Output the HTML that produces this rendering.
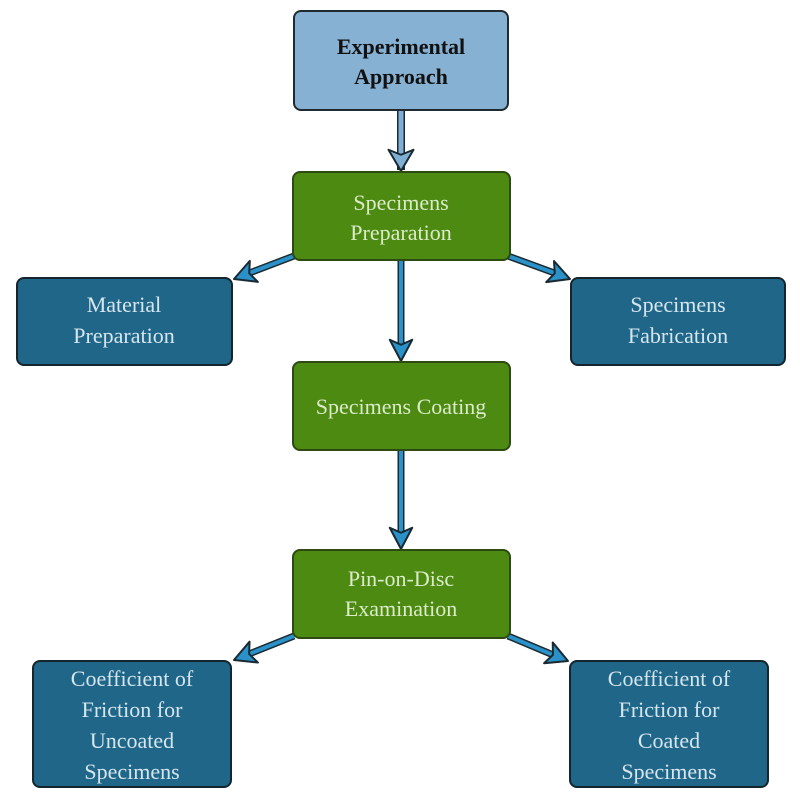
<!DOCTYPE html>
<html><head><meta charset="utf-8"><style>
html,body{margin:0;padding:0;background:#fff;width:800px;height:802px;overflow:hidden}
svg text{font-family:"Liberation Serif",serif}
</style></head><body>
<svg width="800" height="802" viewBox="0 0 800 802" xmlns="http://www.w3.org/2000/svg">
<defs>
<marker id="hb" markerUnits="userSpaceOnUse" markerWidth="30" markerHeight="30" viewBox="-2 -12 22 24" refX="17" refY="0" orient="auto">
<path d="M0,-9 L17,0 L0,9 L4,0 z" fill="#2a92c8" stroke="#1a2a33" stroke-width="1.6" stroke-linejoin="round"/>
</marker>
<marker id="hl" markerUnits="userSpaceOnUse" markerWidth="30" markerHeight="30" viewBox="-2 -12 22 24" refX="17" refY="0" orient="auto">
<path d="M0,-10 L17,0 L0,10 L4,0 z" fill="#7fb0d4" stroke="#1a2a33" stroke-width="1.6" stroke-linejoin="round"/>
</marker>
</defs>
<!-- connectors -->
<g stroke-linecap="butt">
<line x1="401" y1="110" x2="401" y2="170" stroke="#1a2a33" stroke-width="8"/>
<line x1="401" y1="110" x2="401" y2="160" stroke="#7fb0d4" stroke-width="5"/>
<line x1="401" y1="110" x2="401" y2="171" stroke="none" marker-end="url(#hl)"/>

<line x1="401" y1="260" x2="401" y2="352" stroke="#1a2a33" stroke-width="7"/>
<line x1="401" y1="260" x2="401" y2="352" stroke="#2a92c8" stroke-width="4"/>
<line x1="401" y1="260" x2="401" y2="361" stroke="#000" stroke-opacity="0" marker-end="url(#hb)"/>

<line x1="401" y1="450" x2="401" y2="540" stroke="#1a2a33" stroke-width="7"/>
<line x1="401" y1="450" x2="401" y2="540" stroke="#2a92c8" stroke-width="4"/>
<line x1="401" y1="450" x2="401" y2="549" stroke="#000" stroke-opacity="0" marker-end="url(#hb)"/>

<g>
<line x1="294" y1="256" x2="244" y2="275" stroke="#1a2a33" stroke-width="7"/>
<line x1="294" y1="256" x2="244" y2="275" stroke="#2a92c8" stroke-width="4"/>
<line x1="294" y1="256" x2="234" y2="279" stroke="#000" stroke-opacity="0" marker-end="url(#hb)"/>
<line x1="508" y1="256" x2="560" y2="275" stroke="#1a2a33" stroke-width="7"/>
<line x1="508" y1="256" x2="560" y2="275" stroke="#2a92c8" stroke-width="4"/>
<line x1="508" y1="256" x2="570" y2="279" stroke="#000" stroke-opacity="0" marker-end="url(#hb)"/>
<line x1="294" y1="636" x2="244" y2="656" stroke="#1a2a33" stroke-width="7"/>
<line x1="294" y1="636" x2="244" y2="656" stroke="#2a92c8" stroke-width="4"/>
<line x1="294" y1="636" x2="234" y2="660" stroke="#000" stroke-opacity="0" marker-end="url(#hb)"/>
<line x1="508" y1="636" x2="558" y2="657" stroke="#1a2a33" stroke-width="7"/>
<line x1="508" y1="636" x2="558" y2="657" stroke="#2a92c8" stroke-width="4"/>
<line x1="508" y1="636" x2="568" y2="661" stroke="#000" stroke-opacity="0" marker-end="url(#hb)"/>
</g>
</g>
<!-- boxes -->
<rect x="294" y="11" width="214" height="99" rx="7" fill="#86b1d3" stroke="#1e2a30" stroke-width="2"/>
<text x="401" y="54" text-anchor="middle" font-size="22" font-weight="bold" fill="#111">Experimental</text>
<text x="401" y="84" text-anchor="middle" font-size="22" font-weight="bold" fill="#111">Approach</text>

<g fill="#4c8a12" stroke="#2d4a12" stroke-width="2">
<rect x="293" y="172" width="217" height="88" rx="7"/>
<rect x="293" y="362" width="217" height="88" rx="7"/>
<rect x="293" y="550" width="217" height="88" rx="7"/>
</g>
<g font-size="22" fill="#dcebc8" text-anchor="middle">
<text x="401" y="210">Specimens</text>
<text x="401" y="240">Preparation</text>
<text x="401" y="414">Specimens Coating</text>
<text x="401" y="586">Pin-on-Disc</text>
<text x="401" y="616">Examination</text>
</g>

<g fill="#1f6688" stroke="#14252e" stroke-width="2">
<rect x="17" y="278" width="215" height="87" rx="7"/>
<rect x="571" y="278" width="214" height="87" rx="7"/>
<rect x="33" y="661" width="198" height="126" rx="7"/>
<rect x="570" y="661" width="198" height="126" rx="7"/>
</g>
<g font-size="22" fill="#d6e6ef" text-anchor="middle">
<text x="124" y="312">Material</text>
<text x="124" y="343">Preparation</text>
<text x="678" y="312">Specimens</text>
<text x="678" y="343">Fabrication</text>
<text x="132" y="686">Coefficient of</text>
<text x="132" y="717">Friction for</text>
<text x="132" y="748">Uncoated</text>
<text x="132" y="779">Specimens</text>
<text x="669" y="686">Coefficient of</text>
<text x="669" y="717">Friction for</text>
<text x="669" y="748">Coated</text>
<text x="669" y="779">Specimens</text>
</g>
</svg>
</body></html>
